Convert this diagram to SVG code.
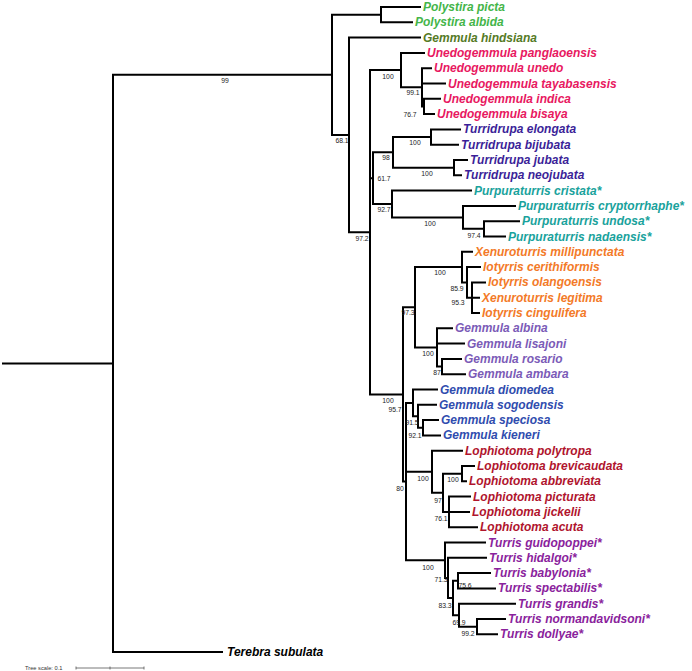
<svg xmlns="http://www.w3.org/2000/svg" width="692" height="671" viewBox="0 0 692 671">
<style>
.br{fill:none;stroke:#000;stroke-width:2;stroke-linecap:square;stroke-linejoin:miter}
.lf{font-family:"Liberation Sans",Arial,Helvetica,sans-serif;font-weight:bold;font-style:italic;font-size:12px}
.bs{font-family:"Liberation Sans",Arial,Helvetica,sans-serif;font-size:6.8px;fill:#222;text-anchor:middle}
.c1{fill:#44b549}.c2{fill:#557a25}.c3{fill:#e8185f}.c4{fill:#3b1f98}.c5{fill:#19a29c}
.c6{fill:#f37a28}.c7{fill:#7b5bb7}.c8{fill:#2f4cae}.c9{fill:#b0142d}.c10{fill:#8a229c}.c0{fill:#000}
</style>
<rect width="692" height="671" fill="#fff"/>
<g id="connectors">
<path class="br" d="M3 363.4H113M332 74.8H113V652H222"/>
<path class="br" d="M381 14.65H332V134.9H349"/>
<path class="br" d="M420 7H381V22.3H412"/>
<path class="br" d="M420 37.6H349V232.25H370"/>
<path class="br" d="M401 70.1H370V394.4H403M370 178.2H373"/>
<path class="br" d="M424 52.9H401V87.3H422"/>
<path class="br" d="M431 68.2H422V106.45H424M422 83.5H445"/>
<path class="br" d="M440 98.8H424V114.1H434"/>
<path class="br" d="M393 152.35H373V204H392"/>
<path class="br" d="M431 137.05H393V167.65H454"/>
<path class="br" d="M460 129.4H431V144.7H458"/>
<path class="br" d="M467 160H454V175.3H461"/>
<path class="br" d="M471 190.6H392V217.4H463"/>
<path class="br" d="M515 205.9H463V228.85H484"/>
<path class="br" d="M519 221.2H484V236.5H505"/>
<path class="br" d="M415 307.25H403V481.55H406"/>
<path class="br" d="M462 267.1H415V347.4H437"/>
<path class="br" d="M472 251.8H462V282.4H467"/>
<path class="br" d="M480 267.1H467V297.7H472"/>
<path class="br" d="M485 282.4H472V313H479M472 297.7H479"/>
<path class="br" d="M452 328.3H437V366.55H442M437 343.6H464"/>
<path class="br" d="M461 358.9H442V374.2H465"/>
<path class="br" d="M413 402.9H406V560.2H445M406 471.7H432"/>
<path class="br" d="M437 389.5H413V416.3H418"/>
<path class="br" d="M436 404.8H418V427.75H423"/>
<path class="br" d="M438 420.1H423V435.4H440"/>
<path class="br" d="M462 450.7H432V492.8H443"/>
<path class="br" d="M462 473.65H443V511.9H449"/>
<path class="br" d="M474 466H462V481.3H466"/>
<path class="br" d="M470 496.6H449V527.2H477M449 511.9H469"/>
<path class="br" d="M485 542.5H445V577.9H448"/>
<path class="br" d="M486 557.8H448V597.95H453"/>
<path class="br" d="M458 580.75H453V615.2H459"/>
<path class="br" d="M490 573.1H458V588.4H495"/>
<path class="br" d="M515 603.7H459V626.65H477"/>
<path class="br" d="M505 619H477V634.3H497"/>
</g>
<g id="support">
<text class="bs" x="225" y="83">99</text>
<text class="bs" x="342" y="143">68.1</text>
<text class="bs" x="362" y="241">97.2</text>
<text class="bs" x="388" y="79">100</text>
<text class="bs" x="413" y="95">99.1</text>
<text class="bs" x="410" y="117">76.7</text>
<text class="bs" x="386" y="160">98</text>
<text class="bs" x="384" y="181">61.7</text>
<text class="bs" x="415" y="145">100</text>
<text class="bs" x="427" y="176">100</text>
<text class="bs" x="384" y="212">92.7</text>
<text class="bs" x="430" y="226">100</text>
<text class="bs" x="474" y="238">97.4</text>
<text class="bs" x="388" y="403">100</text>
<text class="bs" x="408" y="315">97.3</text>
<text class="bs" x="440" y="275">100</text>
<text class="bs" x="457" y="291">85.9</text>
<text class="bs" x="458" y="305">95.3</text>
<text class="bs" x="428" y="356">100</text>
<text class="bs" x="437" y="375">87</text>
<text class="bs" x="395" y="412">95.7</text>
<text class="bs" x="412" y="425">91.5</text>
<text class="bs" x="415" y="438">92.1</text>
<text class="bs" x="400" y="491">80</text>
<text class="bs" x="423" y="481">100</text>
<text class="bs" x="453" y="482">100</text>
<text class="bs" x="438" y="503">97</text>
<text class="bs" x="441" y="521">76.1</text>
<text class="bs" x="428" y="570">100</text>
<text class="bs" x="441" y="582">71.3</text>
<text class="bs" x="465" y="588">75.6</text>
<text class="bs" x="445" y="608">83.3</text>
<text class="bs" x="459" y="625">69.9</text>
<text class="bs" x="468" y="636">99.2</text>
</g>
<g id="n-polystira-picta"><text class="lf c1" x="423" y="11">Polystira picta</text></g>
<g id="n-polystira-albida"><text class="lf c1" x="415" y="26.3">Polystira albida</text></g>
<g id="n-gemmula-hindsiana"><text class="lf c2" x="423" y="41.6">Gemmula hindsiana</text></g>
<g id="n-unedogemmula-panglaoensis"><text class="lf c3" x="427" y="56.9">Unedogemmula panglaoensis</text></g>
<g id="n-unedogemmula-unedo"><text class="lf c3" x="434" y="72.2">Unedogemmula unedo</text></g>
<g id="n-unedogemmula-tayabasensis"><text class="lf c3" x="448" y="87.5">Unedogemmula tayabasensis</text></g>
<g id="n-unedogemmula-indica"><text class="lf c3" x="443" y="102.8">Unedogemmula indica</text></g>
<g id="n-unedogemmula-bisaya"><text class="lf c3" x="437" y="118.1">Unedogemmula bisaya</text></g>
<g id="n-turridrupa-elongata"><text class="lf c4" x="463" y="133.4">Turridrupa elongata</text></g>
<g id="n-turridrupa-bijubata"><text class="lf c4" x="461" y="148.7">Turridrupa bijubata</text></g>
<g id="n-turridrupa-jubata"><text class="lf c4" x="470" y="164">Turridrupa jubata</text></g>
<g id="n-turridrupa-neojubata"><text class="lf c4" x="464" y="179.3">Turridrupa neojubata</text></g>
<g id="n-purpuraturris-cristata"><text class="lf c5" x="474" y="194.6">Purpuraturris cristata*</text></g>
<g id="n-purpuraturris-cryptorrhaphe"><text class="lf c5" x="518" y="209.9">Purpuraturris cryptorrhaphe*</text></g>
<g id="n-purpuraturris-undosa"><text class="lf c5" x="522" y="225.2">Purpuraturris undosa*</text></g>
<g id="n-purpuraturris-nadaensis"><text class="lf c5" x="508" y="240.5">Purpuraturris nadaensis*</text></g>
<g id="n-xenuroturris-millipunctata"><text class="lf c6" x="475" y="255.8">Xenuroturris millipunctata</text></g>
<g id="n-iotyrris-cerithiformis"><text class="lf c6" x="483" y="271.1">Iotyrris cerithiformis</text></g>
<g id="n-iotyrris-olangoensis"><text class="lf c6" x="488" y="286.4">Iotyrris olangoensis</text></g>
<g id="n-xenuroturris-legitima"><text class="lf c6" x="482" y="301.7">Xenuroturris legitima</text></g>
<g id="n-iotyrris-cingulifera"><text class="lf c6" x="482" y="317">Iotyrris cingulifera</text></g>
<g id="n-gemmula-albina"><text class="lf c7" x="455" y="332.3">Gemmula albina</text></g>
<g id="n-gemmula-lisajoni"><text class="lf c7" x="467" y="347.6">Gemmula lisajoni</text></g>
<g id="n-gemmula-rosario"><text class="lf c7" x="464" y="362.9">Gemmula rosario</text></g>
<g id="n-gemmula-ambara"><text class="lf c7" x="468" y="378.2">Gemmula ambara</text></g>
<g id="n-gemmula-diomedea"><text class="lf c8" x="440" y="393.5">Gemmula diomedea</text></g>
<g id="n-gemmula-sogodensis"><text class="lf c8" x="439" y="408.8">Gemmula sogodensis</text></g>
<g id="n-gemmula-speciosa"><text class="lf c8" x="441" y="424.1">Gemmula speciosa</text></g>
<g id="n-gemmula-kieneri"><text class="lf c8" x="443" y="439.4">Gemmula kieneri</text></g>
<g id="n-lophiotoma-polytropa"><text class="lf c9" x="465" y="454.7">Lophiotoma polytropa</text></g>
<g id="n-lophiotoma-brevicaudata"><text class="lf c9" x="477" y="470">Lophiotoma brevicaudata</text></g>
<g id="n-lophiotoma-abbreviata"><text class="lf c9" x="469" y="485.3">Lophiotoma abbreviata</text></g>
<g id="n-lophiotoma-picturata"><text class="lf c9" x="473" y="500.6">Lophiotoma picturata</text></g>
<g id="n-lophiotoma-jickelii"><text class="lf c9" x="472" y="515.9">Lophiotoma jickelii</text></g>
<g id="n-lophiotoma-acuta"><text class="lf c9" x="480" y="531.2">Lophiotoma acuta</text></g>
<g id="n-turris-guidopoppei"><text class="lf c10" x="488" y="546.5">Turris guidopoppei*</text></g>
<g id="n-turris-hidalgoi"><text class="lf c10" x="489" y="561.8">Turris hidalgoi*</text></g>
<g id="n-turris-babylonia"><text class="lf c10" x="493" y="577.1">Turris babylonia*</text></g>
<g id="n-turris-spectabilis"><text class="lf c10" x="498" y="592.4">Turris spectabilis*</text></g>
<g id="n-turris-grandis"><text class="lf c10" x="518" y="607.7">Turris grandis*</text></g>
<g id="n-turris-normandavidsoni"><text class="lf c10" x="508" y="623">Turris normandavidsoni*</text></g>
<g id="n-turris-dollyae"><text class="lf c10" x="500" y="638.3">Turris dollyae*</text></g>
<g id="n-terebra-subulata"><text class="lf c0" x="227" y="656">Terebra subulata</text></g>
<g id="scale">
<text x="25" y="670" font-family="'Liberation Sans',Arial,sans-serif" font-size="5.7" fill="#333">Tree scale: 0.1</text>
<path d="M76 668H144M76 666.5V669.5M110 666.5V669.5M144 666.5V669.5" fill="none" stroke="#555" stroke-width="0.8"/>
</g>
</svg>
